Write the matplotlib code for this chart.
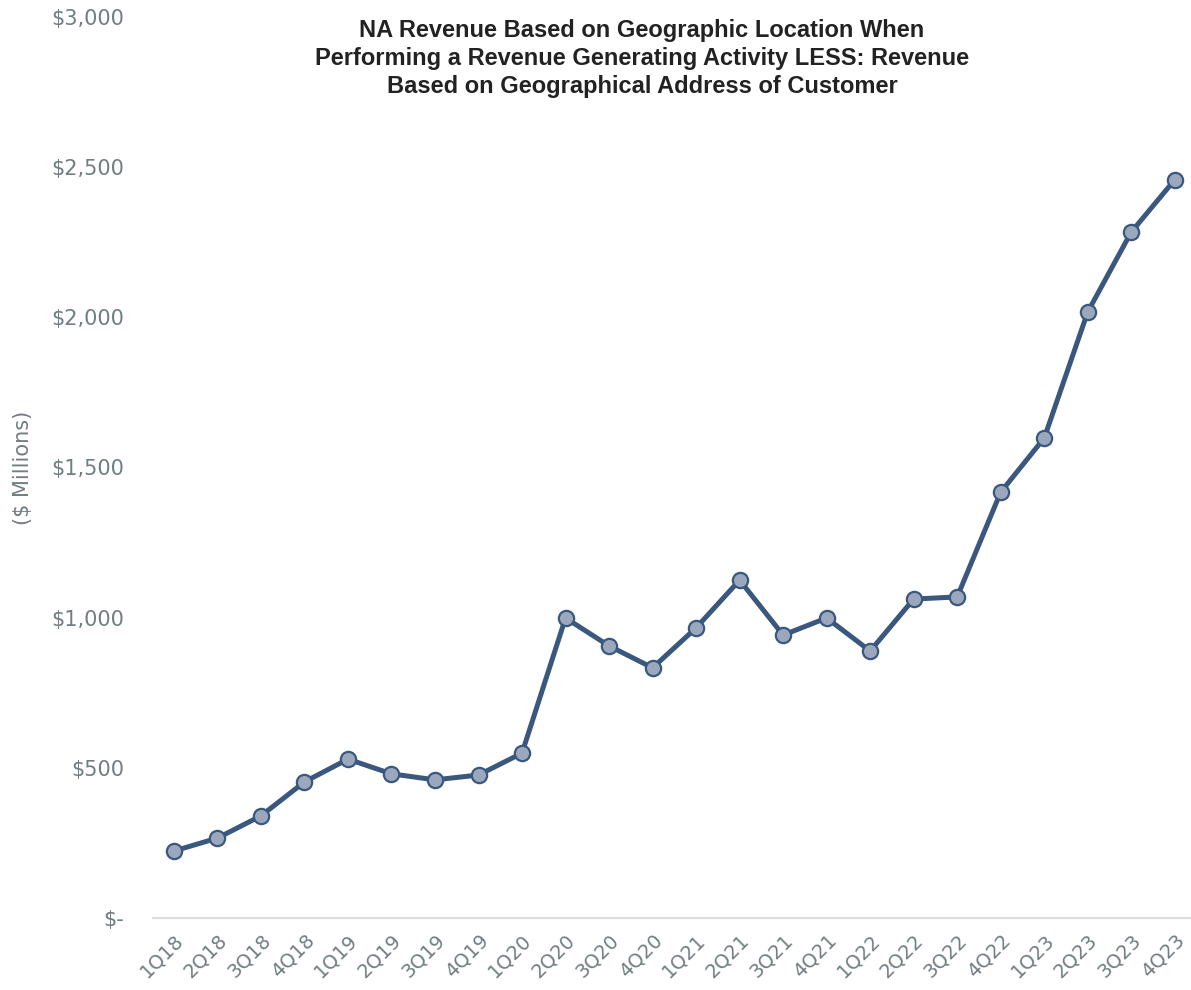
import matplotlib
matplotlib.use("Agg")
import matplotlib.pyplot as plt
from matplotlib.ticker import FuncFormatter

quarters = ["1Q18", "2Q18", "3Q18", "4Q18", "1Q19", "2Q19", "3Q19", "4Q19",
            "1Q20", "2Q20", "3Q20", "4Q20", "1Q21", "2Q21", "3Q21", "4Q21",
            "1Q22", "2Q22", "3Q22", "4Q22", "1Q23", "2Q23", "3Q23", "4Q23"]
revenue = [223, 266, 340, 453, 529, 480, 460, 476,
           549, 999, 906, 833, 966, 1125, 942, 999,
           889, 1062, 1069, 1418, 1598, 2018, 2284, 2458]
y_ticks = [0, 500, 1000, 1500, 2000, 2500, 3000]

title = ("NA Revenue Based on Geographic Location When\n"
         "Performing a Revenue Generating Activity LESS: Revenue\n"
         "Based on Geographical Address of Customer")

tick_font = ["DejaVu Sans"]
gray = "#717d80"

fig = plt.figure(figsize=(11.91, 9.9), dpi=100)
ax = fig.add_axes([153/1191, 72/990, (1190-153)/1191, (918-17)/990])

x = list(range(len(quarters)))
ax.plot(x, revenue, color="#3a587e", linewidth=3.6, marker="o",
        markersize=11, markerfacecolor="#9aa7bd", markeredgecolor="#3a587e",
        markeredgewidth=1.6, zorder=3, solid_capstyle="round")

ax.set_ylim(0, 3000)
ax.set_xlim(-0.48, 23.35)
ax.set_yticks(y_ticks)
ax.yaxis.set_major_formatter(FuncFormatter(lambda v, p: "$-" if v == 0 else f"${v:,.0f}"))
ax.set_xticks(x)
ax.set_xticklabels(quarters, rotation=45, ha="right", va="top",
                   rotation_mode="anchor")

for s in ["top", "right", "left"]:
    ax.spines[s].set_visible(False)
ax.spines["bottom"].set_color("#dddddd")
ax.spines["bottom"].set_linewidth(1.5)

ax.tick_params(axis="y", length=0, pad=21, labelsize=15, labelcolor=gray)
ax.tick_params(axis="x", length=0, pad=9, labelsize=14, labelcolor=gray)
for lab in ax.get_xticklabels() + ax.get_yticklabels():
    lab.set_family(tick_font)

ax.set_ylabel("($ Millions)", fontsize=15, color=gray, family=tick_font, labelpad=0)
ax.yaxis.set_label_coords(-120/1037, (918-468)/901)

fig.text(642/1191, 1-19/990, title, ha="center", va="top", fontsize=17,
         fontweight="bold", color="#222222", family=["Liberation Sans", "DejaVu Sans"],
         linespacing=1.29)

fig.savefig("out.png", dpi=100)
